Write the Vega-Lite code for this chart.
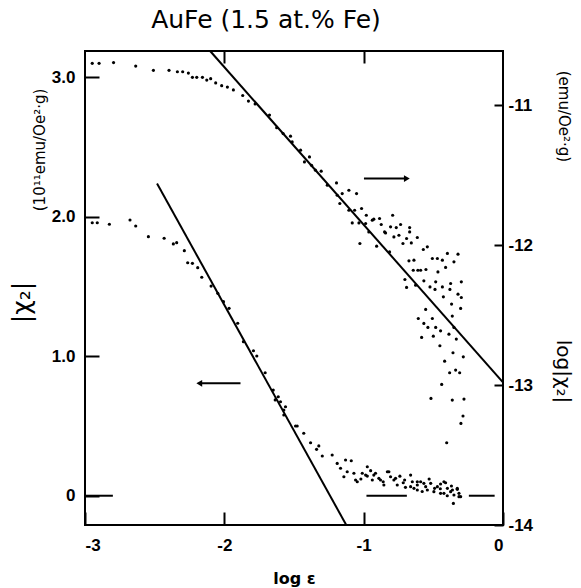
{
  "$schema": "https://vega.github.io/schema/vega-lite/v6.json",
  "width": 418,
  "height": 474,
  "autosize": {"type": "none"},
  "padding": {"left": 85, "top": 51, "right": 78, "bottom": 63},
  "background": "white",
  "title": {"text": "AuFe (1.5 at.% Fe)", "font": "DejaVu Sans", "fontSize": 25, "fontWeight": "normal", "color": "black", "anchor": "middle", "dx": -28, "offset": 14},
  "config": {
    "view": {"stroke": "black", "strokeWidth": 2},
    "axis": {"labelFont": "Liberation Sans", "labelFontWeight": "bold", "labelFontSize": 17, "labelColor": "black", "tickColor": "black", "tickWidth": 2, "domain": false, "grid": false, "titleColor": "black"}
  },
  "datasets": {
    "lowerPoints": [
      {"le": -2.948, "v": 1.958}, {"le": -2.912, "v": 1.958}, {"le": -2.825, "v": 1.947}, {"le": -2.677, "v": 1.978}, {"le": -2.636, "v": 1.935},
      {"le": -2.545, "v": 1.858}, {"le": -2.432, "v": 1.847}, {"le": -2.366, "v": 1.806}, {"le": -2.342, "v": 1.815}, {"le": -2.287, "v": 1.758},
      {"le": -2.263, "v": 1.671}, {"le": -2.229, "v": 1.667}, {"le": -2.191, "v": 1.636}, {"le": -2.162, "v": 1.567}, {"le": -2.095, "v": 1.504},
      {"le": -2.047, "v": 1.452}, {"le": -2.006, "v": 1.392}, {"le": -1.966, "v": 1.344}, {"le": -1.904, "v": 1.237}, {"le": -1.863, "v": 1.105},
      {"le": -1.791, "v": 1.040}, {"le": -1.767, "v": 1.002}, {"le": -1.707, "v": 0.882}, {"le": -1.649, "v": 0.758}, {"le": -1.635, "v": 0.687},
      {"le": -1.613, "v": 0.710}, {"le": -1.597, "v": 0.674}, {"le": -1.561, "v": 0.638}, {"le": -1.573, "v": 0.579}, {"le": -1.573, "v": 0.615},
      {"le": -1.489, "v": 0.500}, {"le": -1.477, "v": 0.500}, {"le": -1.430, "v": 0.448}, {"le": -1.381, "v": 0.380}, {"le": -1.338, "v": 0.333},
      {"le": -1.322, "v": 0.357}, {"le": -1.297, "v": 0.285}, {"le": -1.226, "v": 0.292}, {"le": -1.190, "v": 0.232}, {"le": -1.130, "v": 0.256},
      {"le": -1.089, "v": 0.251}, {"le": -1.166, "v": 0.197}, {"le": -1.118, "v": 0.172}, {"le": -1.070, "v": 0.161}, {"le": -1.142, "v": 0.136},
      {"le": -1.046, "v": 0.100}, {"le": -1.010, "v": 0.161}, {"le": -0.974, "v": 0.208}, {"le": -0.974, "v": 0.141}, {"le": -0.927, "v": 0.148},
      {"le": -0.938, "v": 0.113}, {"le": -0.879, "v": 0.113}, {"le": -0.819, "v": 0.172}, {"le": -0.807, "v": 0.136}, {"le": -0.783, "v": 0.113},
      {"le": -0.855, "v": 0.077}, {"le": -0.759, "v": 0.077}, {"le": -0.716, "v": 0.093}, {"le": -0.663, "v": 0.148}, {"le": -0.651, "v": 0.100},
      {"le": -0.615, "v": 0.077}, {"le": -0.591, "v": 0.100}, {"le": -0.555, "v": 0.065}, {"le": -0.519, "v": 0.089}, {"le": -0.471, "v": 0.065},
      {"le": -0.424, "v": 0.100}, {"le": -0.399, "v": 0.053}, {"le": -0.363, "v": 0.041}, {"le": -0.328, "v": 0.053}, {"le": -0.543, "v": 0.041},
      {"le": -0.639, "v": 0.053}, {"le": -0.496, "v": 0.029}, {"le": -0.448, "v": 0.017}, {"le": -0.352, "v": 0.005}, {"le": -0.316, "v": -0.007},
      {"le": -0.663, "v": 0.065}, {"le": -0.986, "v": 0.148}, {"le": -1.058, "v": 0.113}, {"le": -0.915, "v": 0.161}, {"le": -0.891, "v": 0.125},
      {"le": -0.830, "v": 0.172}, {"le": -0.771, "v": 0.125}, {"le": -0.706, "v": 0.113}, {"le": -0.615, "v": 0.100}, {"le": -0.568, "v": 0.089},
      {"le": -0.491, "v": 0.053}, {"le": -0.448, "v": 0.084}, {"le": -0.412, "v": 0.093}, {"le": -0.424, "v": 0.017}, {"le": -0.376, "v": 0.029},
      {"le": -0.316, "v": 0.017}, {"le": -0.304, "v": -0.007}, {"le": -0.356, "v": -0.055}, {"le": -0.615, "v": 0.041}, {"le": -0.328, "v": 0.046},
      {"le": -0.700, "v": 0.060}, {"le": -0.580, "v": 0.030}, {"le": -0.450, "v": 0.050}, {"le": -0.400, "v": 0.000}, {"le": -0.370, "v": 0.070},
      {"le": -0.530, "v": 0.120}, {"le": -0.740, "v": 0.140}, {"le": -0.860, "v": 0.100}, {"le": -0.950, "v": 0.180}, {"le": -1.020, "v": 0.120}
    ],
    "upperPoints": [
      {"le": -2.948, "v": -10.70}, {"le": -2.899, "v": -10.70}, {"le": -2.795, "v": -10.695}, {"le": -2.636, "v": -10.72}, {"le": -2.509, "v": -10.75},
      {"le": -2.397, "v": -10.75}, {"le": -2.337, "v": -10.76}, {"le": -2.299, "v": -10.76}, {"le": -2.258, "v": -10.77}, {"le": -2.229, "v": -10.80},
      {"le": -2.198, "v": -10.80}, {"le": -2.157, "v": -10.80}, {"le": -2.126, "v": -10.82}, {"le": -2.098, "v": -10.81}, {"le": -2.062, "v": -10.84},
      {"le": -2.019, "v": -10.86}, {"le": -1.978, "v": -10.87}, {"le": -1.935, "v": -10.89}, {"le": -1.868, "v": -10.93}, {"le": -1.827, "v": -10.97},
      {"le": -1.779, "v": -10.99}, {"le": -1.676, "v": -11.07}, {"le": -1.624, "v": -11.16}, {"le": -1.578, "v": -11.202}, {"le": -1.525, "v": -11.221},
      {"le": -1.513, "v": -11.262}, {"le": -1.453, "v": -11.321}, {"le": -1.425, "v": -11.405}, {"le": -1.389, "v": -11.369}, {"le": -1.374, "v": -11.429},
      {"le": -1.346, "v": -11.464}, {"le": -1.305, "v": -11.471}, {"le": -1.261, "v": -11.571}, {"le": -1.195, "v": -11.555}, {"le": -1.190, "v": -11.643},
      {"le": -1.106, "v": -11.607}, {"le": -1.051, "v": -11.631}, {"le": -1.171, "v": -11.702}, {"le": -1.106, "v": -11.750}, {"le": -1.065, "v": -11.750},
      {"le": -1.015, "v": -11.738}, {"le": -0.981, "v": -11.786}, {"le": -0.986, "v": -11.845}, {"le": -1.034, "v": -11.841}, {"le": -0.927, "v": -11.814},
      {"le": -0.886, "v": -11.809}, {"le": -0.792, "v": -11.786}, {"le": -0.807, "v": -11.869}, {"le": -0.850, "v": -11.905}, {"le": -0.783, "v": -11.941},
      {"le": -1.027, "v": -11.988}, {"le": -0.963, "v": -11.905}, {"le": -0.907, "v": -12.007}, {"le": -1.154, "v": -11.631}, {"le": -1.082, "v": -11.841},
      {"le": -0.938, "v": -11.821}, {"le": -0.874, "v": -11.852}, {"le": -0.735, "v": -11.852}, {"le": -0.766, "v": -11.874}, {"le": -0.670, "v": -11.874},
      {"le": -0.670, "v": -11.905}, {"le": -0.843, "v": -11.912}, {"le": -0.747, "v": -11.929}, {"le": -0.692, "v": -11.952}, {"le": -0.615, "v": -11.945},
      {"le": -0.718, "v": -11.988}, {"le": -0.658, "v": -11.984}, {"le": -0.814, "v": -12.048}, {"le": -0.572, "v": -12.031}, {"le": -0.543, "v": -12.012},
      {"le": -0.675, "v": -12.112}, {"le": -0.639, "v": -12.107}, {"le": -0.507, "v": -12.095}, {"le": -0.471, "v": -12.095}, {"le": -0.435, "v": -12.107},
      {"le": -0.399, "v": -12.059}, {"le": -0.323, "v": -12.064}, {"le": -0.352, "v": -12.119}, {"le": -0.412, "v": -12.159}, {"le": -0.644, "v": -12.179},
      {"le": -0.611, "v": -12.179}, {"le": -0.591, "v": -12.179}, {"le": -0.553, "v": -12.174}, {"le": -0.467, "v": -12.191}, {"le": -0.704, "v": -12.245},
      {"le": -0.568, "v": -12.255}, {"le": -0.627, "v": -12.286}, {"le": -0.483, "v": -12.262}, {"le": -0.524, "v": -12.298}, {"le": -0.488, "v": -12.316},
      {"le": -0.435, "v": -12.298}, {"le": -0.376, "v": -12.274}, {"le": -0.299, "v": -12.262}, {"le": -0.692, "v": -12.302}, {"le": -0.381, "v": -12.316},
      {"le": -0.428, "v": -12.369}, {"le": -0.323, "v": -12.350}, {"le": -0.299, "v": -12.374}, {"le": -0.369, "v": -12.421}, {"le": -0.304, "v": -12.452},
      {"le": -0.555, "v": -12.459}, {"le": -0.608, "v": -12.524}, {"le": -0.507, "v": -12.524}, {"le": -0.364, "v": -12.507}, {"le": -0.568, "v": -12.559},
      {"le": -0.539, "v": -12.588}, {"le": -0.483, "v": -12.588}, {"le": -0.352, "v": -12.588}, {"le": -0.448, "v": -12.612}, {"le": -0.388, "v": -12.636},
      {"le": -0.584, "v": -12.659}, {"le": -0.500, "v": -12.650}, {"le": -0.335, "v": -12.671}, {"le": -0.453, "v": -12.719}, {"le": -0.359, "v": -12.769},
      {"le": -0.285, "v": -12.798}, {"le": -0.419, "v": -12.829}, {"le": -0.383, "v": -12.912}, {"le": -0.340, "v": -12.893}, {"le": -0.311, "v": -12.912},
      {"le": -0.440, "v": -12.995}, {"le": -0.517, "v": -13.095}, {"le": -0.364, "v": -13.107}, {"le": -0.280, "v": -13.100}, {"le": -0.287, "v": -13.221},
      {"le": -0.302, "v": -13.274}, {"le": -0.404, "v": -13.412}
    ],
    "lowerLine": [{"le": -2.483, "v": 2.24}, {"le": -1.125, "v": -0.21}],
    "upperLine": [{"le": -2.102, "v": -10.612}, {"le": 0, "v": -12.98}],
    "zeroDashes": [{"le": -3, "le2": -2.80, "v": 0}, {"le": -0.98, "le2": -0.69, "v": 0}, {"le": -0.245, "le2": -0.06, "v": 0}],
    "leftArrow": [{"le": -2.18, "le2": -1.884, "v": 0.806}],
    "rightArrow": [{"le": -0.69, "le2": -0.998, "v": -11.524}],
    "leftUnits": [{"le": -3.32, "v": 2.48, "label": "(10¹¹emu/Oe²·g)"}],
    "rightUnits": [{"le": 0.44, "v": -11.08, "label": "(emu/Oe²·g)"}]
  },
  "layer": [
    {
      "encoding": {
        "x": {"field": "le", "type": "quantitative", "scale": {"domain": [-3, 0], "nice": false, "zero": false},
          "axis": {"orient": "bottom", "values": [-3, -2, -1, 0], "labelExpr": "'' + datum.value", "tickSize": -13, "labelPadding": 25,
            "title": "log ε", "titleFont": "DejaVu Sans", "titleFontSize": 16, "titleFontWeight": "bold", "titlePadding": 17}},
        "y": {"field": "v", "type": "quantitative", "scale": {"domain": [-0.21, 3.19], "nice": false, "zero": false},
          "axis": {"orient": "left", "values": [0, 1, 2, 3], "labelExpr": "datum.value == 0 ? '0' : format(datum.value, '.1f')", "tickSize": -14, "labelPadding": 24,
            "title": "|χ₂|", "titleFont": "DejaVu Sans", "titleFontSize": 25, "titleFontWeight": "normal", "titleX": -64, "titleY": 251, "titleAngle": 270, "titleAlign": "center", "titleBaseline": "middle"}}
      },
      "layer": [
        {"data": {"name": "lowerPoints"}, "mark": {"type": "circle", "size": 10, "color": "black", "opacity": 1}},
        {"data": {"name": "lowerLine"}, "mark": {"type": "line", "color": "black", "strokeWidth": 2}, "encoding": {}},
        {"data": {"name": "zeroDashes"}, "mark": {"type": "rule", "color": "black", "strokeWidth": 2}, "encoding": {"x2": {"field": "le2"}}},
        {"data": {"name": "leftArrow"}, "mark": {"type": "rule", "color": "black", "strokeWidth": 2}, "encoding": {"x2": {"field": "le2"}}},
        {"data": {"name": "leftArrow"}, "mark": {"type": "point", "shape": "triangle-left", "filled": true, "size": 45, "color": "black", "opacity": 1}},
        {"data": {"name": "leftUnits"}, "mark": {"type": "text", "angle": 270, "font": "DejaVu Sans", "fontSize": 15, "color": "black", "align": "center", "baseline": "middle"}, "encoding": {"text": {"field": "label"}}}
      ]
    },
    {
      "encoding": {
        "x": {"field": "le", "type": "quantitative", "scale": {"domain": [-3, 0], "nice": false, "zero": false},
          "axis": {"orient": "top", "values": [-2, -1], "labels": false, "tickSize": -12, "title": null}},
        "y": {"field": "v", "type": "quantitative", "scale": {"domain": [-14, -10.612], "nice": false, "zero": false},
          "axis": {"orient": "right", "values": [-14, -13, -12, -11], "labelExpr": "'' + datum.value", "tickSize": -9, "labelPadding": 14,
            "title": "log|χ₂|", "titleFont": "DejaVu Sans", "titleFontSize": 20, "titleFontWeight": "normal", "titleX": 59, "titleY": 320, "titleAngle": 90, "titleAlign": "center", "titleBaseline": "middle"}}
      },
      "layer": [
        {"data": {"name": "upperPoints"}, "mark": {"type": "circle", "size": 10, "color": "black", "opacity": 1}},
        {"data": {"name": "upperLine"}, "mark": {"type": "line", "color": "black", "strokeWidth": 2}, "encoding": {}},
        {"data": {"name": "rightArrow"}, "mark": {"type": "rule", "color": "black", "strokeWidth": 2}, "encoding": {"x2": {"field": "le2"}}},
        {"data": {"name": "rightArrow"}, "mark": {"type": "point", "shape": "triangle-right", "filled": true, "size": 45, "color": "black", "opacity": 1}},
        {"data": {"name": "rightUnits"}, "mark": {"type": "text", "angle": 90, "font": "DejaVu Sans", "fontSize": 15, "color": "black", "align": "center", "baseline": "middle"}, "encoding": {"text": {"field": "label"}}}
      ]
    }
  ],
  "resolve": {"scale": {"y": "independent"}, "axis": {"x": "independent"}}
}
